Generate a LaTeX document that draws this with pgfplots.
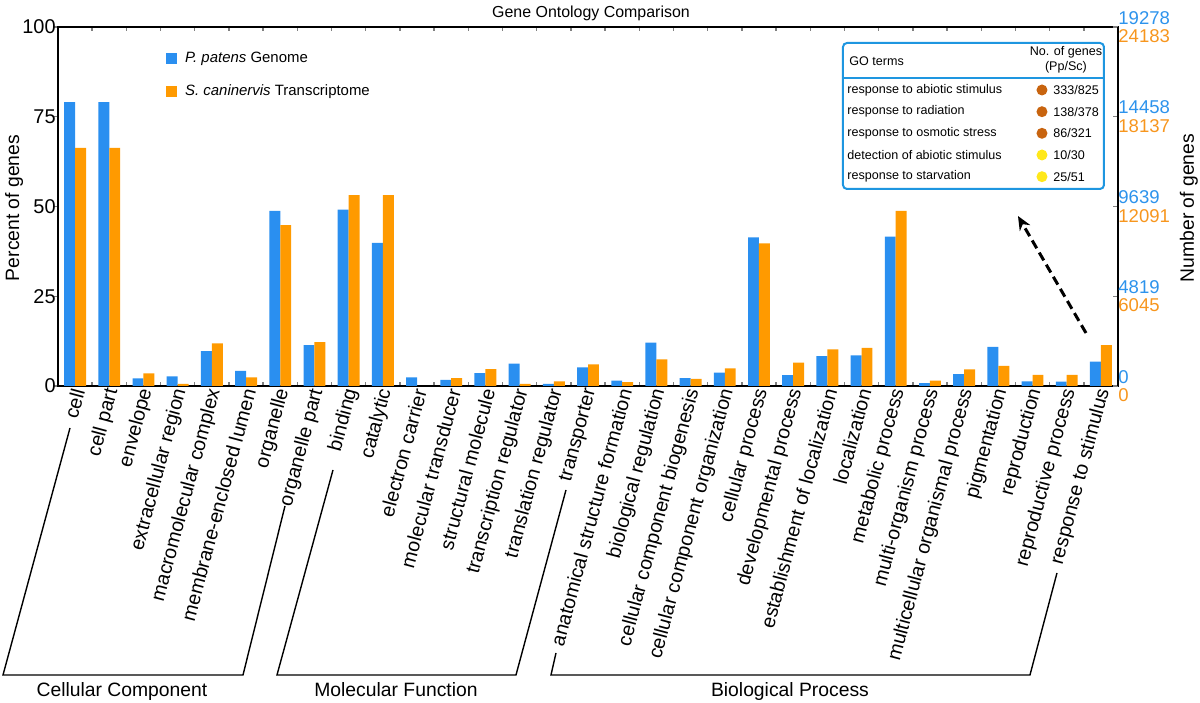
\documentclass[border=0pt]{standalone}
\usepackage{pgfplots}
\pgfplotsset{compat=1.18}
\usepackage{fontspec}
\setmainfont{Liberation Sans}
\usetikzlibrary{arrows.meta}
\definecolor{pblue}{HTML}{2A8FF0}
\definecolor{porange}{HTML}{FF9A00}
\definecolor{lblue}{HTML}{2D93EC}
\definecolor{lorange}{HTML}{F7961E}
\definecolor{boxblue}{HTML}{1E96E0}
\definecolor{dotbrown}{HTML}{C8640F}
\definecolor{dotyellow}{HTML}{FFE81A}
\begin{document}
\begin{tikzpicture}
\useasboundingbox (0,0) rectangle (600bp,351.5bp);
\begin{axis}[
  at={(29bp,158.5bp)}, anchor=south west,
  scale only axis, width=530bp, height=179.5bp,
  xmin=-0.5, xmax=30.5, ymin=0, ymax=100,
  ybar=0pt, bar width=0.32,
  axis line style={line width=0.8bp},
  tick align=inside,
  major tick length=2.5bp, minor tick length=2bp,
  xtick={0,...,30},
  major x tick style={draw=none},
  minor xtick={0.5,1.5,...,29.5},
  minor x tick style={line width=0.7bp},
  xticklabels={cell,cell part,envelope,extracellular region,macromolecular complex,membrane-enclosed lumen,organelle,organelle part,binding,catalytic,electron carrier,molecular transducer,structural molecule,transcription regulator,translation regulator,transporter,anatomical structure formation,biological regulation,cellular component biogenesis,cellular component organization,cellular process,developmental process,establishment of localization,localization,metabolic process,multi-organism process,multicellular organismal process,pigmentation,reproduction,reproductive process,response to stimulus},
  xticklabel style={rotate=75, anchor=east, font=\fontsize{9.9}{10}\selectfont, inner sep=1bp, yshift=-2bp},
  ytick={0,25,50,75,100},
  ytick pos=left,
  ytick style={line width=0.7bp, xshift=-2.5bp},
  yticklabel style={font=\fontsize{10}{10}\selectfont, inner sep=1bp},
  /pgf/number format/assume math mode=true,
  legend style={draw=none, fill=none, at={(rel axis cs:0.0998,0.948)}, anchor=north west,
    font=\fontsize{7.5}{8}\selectfont, row sep=5.5bp, inner sep=1bp,
    /tikz/every odd column/.append style={column sep=2bp}},
  legend cell align=left,
  legend image code/.code={\fill[#1] (0bp,-2.75bp) rectangle (5.5bp,2.75bp);},
]
\addplot[fill=pblue, draw=none] coordinates {
(0,79.1) (1,79.1) (2,2.1) (3,2.7) (4,9.7) (5,4.2) (6,48.8) (7,11.4)
(8,49.1) (9,39.9) (10,2.4) (11,1.7) (12,3.6) (13,6.2) (14,0.6) (15,5.2)
(16,1.5) (17,12.1) (18,2.2) (19,3.7) (20,41.4) (21,3.0) (22,8.3) (23,8.5)
(24,41.6) (25,0.8) (26,3.3) (27,10.9) (28,1.3) (29,1.2) (30,6.8)};
\addlegendentry{\textit{P. patens} Genome}
\addplot[fill=porange, draw=none] coordinates {
(0,66.3) (1,66.3) (2,3.5) (3,0.6) (4,11.9) (5,2.4) (6,44.8) (7,12.2)
(8,53.2) (9,53.2) (10,0) (11,2.2) (12,4.7) (13,0.6) (14,1.3) (15,6.0)
(16,1.1) (17,7.4) (18,2.0) (19,4.9) (20,39.7) (21,6.5) (22,10.2) (23,10.6)
(24,48.8) (25,1.5) (26,4.6) (27,5.6) (28,3.1) (29,3.1) (30,11.4)};
\addlegendentry{\textit{S. caninervis} Transcriptome}
\end{axis}
\begin{axis}[
  at={(29bp,158.5bp)}, anchor=south west,
  scale only axis, width=530bp, height=179.5bp,
  xmin=-0.5, xmax=30.5, ymin=0, ymax=100,
  axis x line=none, axis y line*=right,
  axis line style={line width=0.8bp},
  tick align=inside, major tick length=2.5bp,
  ytick={0,25,50,75,100},
  ytick style={line width=0.7bp},
  yticklabels={{\textcolor{lblue}{0}\\\textcolor{lorange}{0}},
               {\textcolor{lblue}{4819}\\\textcolor{lorange}{6045}},
               {\textcolor{lblue}{9639}\\\textcolor{lorange}{12091}},
               {\textcolor{lblue}{14458}\\\textcolor{lorange}{18137}},
               {\textcolor{lblue}{19278}\\\textcolor{lorange}{24183}}},
  yticklabel style={align=left, anchor=west, inner sep=1bp, xshift=-1bp,
    font=\fontsize{9.3}{9.4}\selectfont},
]
\addplot[draw=none] coordinates {(0,0)};
\end{axis}
\begin{scope}[shift={(0,351.5bp)}, x=0.5bp, y=-0.5bp]
  % title and axis labels
  \node[anchor=base, font=\fontsize{8}{8}\selectfont] at (591,17.5) {Gene Ontology Comparison};
  \node[anchor=base, rotate=90, font=\fontsize{9.7}{10}\selectfont] at (19,208) {Percent of genes};
  \node[anchor=base, rotate=90, font=\fontsize{9.7}{10}\selectfont] at (1194,208) {Number of genes};
  % group brackets
  \draw[line width=0.7bp] (70,428) -- (3,675) -- (243,675) -- (285,506);
  \draw[line width=0.7bp] (333,470) -- (277,675) -- (516,675) -- (566,490);
  \draw[line width=0.7bp] (556,653) -- (551,675) -- (1030,675) -- (1057,573);
  \node[anchor=base, font=\fontsize{9.7}{10}\selectfont] at (122,697) {Cellular Component};
  \node[anchor=base, font=\fontsize{9.7}{10}\selectfont] at (396,697) {Molecular Function};
  \node[anchor=base, font=\fontsize{9.7}{10}\selectfont] at (790,697) {Biological Process};
  % inset table
  \draw[boxblue, line width=1bp, rounded corners=2bp] (843,43) rectangle (1104,189);
  \draw[boxblue, line width=1bp] (843,78) -- (1104,78);
  \begin{scope}[every node/.style={font=\fontsize{6.3}{7}\selectfont, inner sep=0pt}]
    \node[anchor=west] at (849,61) {GO terms};
    \node[anchor=center] at (1066,52) {No. of genes};
    \node[anchor=center] at (1066,67) {(Pp/Sc)};
    \node[anchor=west] at (847,90) {response to abiotic stimulus};
    \node[anchor=west] at (847,111.7) {response to radiation};
    \node[anchor=west] at (847,133.3) {response to osmotic stress};
    \node[anchor=west] at (847,155) {detection of abiotic stimulus};
    \node[anchor=west] at (847,176.7) {response to starvation};
    \node[anchor=west] at (1053,90) {333/825};
    \node[anchor=west] at (1053,111.7) {138/378};
    \node[anchor=west] at (1053,133.3) {86/321};
    \node[anchor=west] at (1053,155) {10/30};
    \node[anchor=west] at (1053,176.7) {25/51};
  \end{scope}
  \fill[dotbrown] (1042,90) circle (5.5);
  \fill[dotbrown] (1042,111.7) circle (5.5);
  \fill[dotbrown] (1042,133.3) circle (5.5);
  \fill[dotyellow] (1042,155) circle (5.5);
  \fill[dotyellow] (1042,176.7) circle (5.5);
  % arrow
  \draw[line width=1.5bp, dash pattern=on 4.5bp off 2.5bp, -{Stealth[length=7bp,width=6bp]}] (1086,333) -- (1018,216);
\end{scope}
\end{tikzpicture}
\end{document}
